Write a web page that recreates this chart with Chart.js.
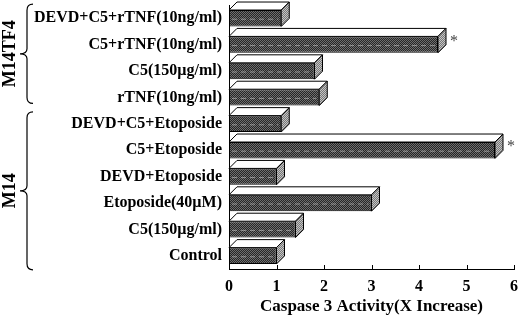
<!DOCTYPE html>
<html lang="en">
<head>
    <meta charset="UTF-8">
    <title>Caspase 3 Activity</title>
    <style>
        html, body { margin: 0; padding: 0; background: #fff; overflow: hidden; }
        .chart-container { width: 520px; height: 317px; position: relative; }
    </style>
</head>
<body>

<div class="chart-container"><canvas id="caspaseChart" width="520" height="317"></canvas></div>

<script src="https://cdn.jsdelivr.net/npm/chart.js"></script>
<script>
    // Data
    const treatments = [
        'DEVD+C5+rTNF(10ng/ml)', 'C5+rTNF(10ng/ml)', 'C5(150µg/ml)', 'rTNF(10ng/ml)',
        'DEVD+C5+Etoposide', 'C5+Etoposide', 'DEVD+Etoposide', 'Etoposide(40µM)',
        'C5(150µg/ml)', 'Control'
    ];
    const activity = [1.1, 4.4, 1.8, 1.9, 1.1, 5.6, 1.0, 3.0, 1.4, 1.0];
    const significant = [false, true, false, false, false, true, false, false, false, false];
    const groupNames = ['M14TF4', 'M14'];
    const groupFirst = [0, 4];
    const groupLast = [3, 9];
    const xTicks = [0, 1, 2, 3, 4, 5, 6];

    const SERIF = "'Liberation Serif', 'Times New Roman', serif";
    const DEPTH_X = 8, DEPTH_Y = 8;

    // stipple patterns for the front and side faces
    function makePattern(dark, light) {
        const c = document.createElement('canvas');
        c.width = 2; c.height = 2;
        const g = c.getContext('2d');
        g.fillStyle = dark; g.fillRect(0, 0, 2, 2);
        g.fillStyle = light; g.fillRect(0, 0, 1, 1); g.fillRect(1, 1, 1, 1);
        return g.createPattern(c, 'repeat');
    }
    const ctx = document.getElementById('caspaseChart').getContext('2d');
    const frontPattern = makePattern('#262626', '#6e6e6e');
    const sidePattern = makePattern('#777', '#c4c4c4');

    const bar3d = {
        id: 'bar3d',
        afterDatasetsDraw(chart) {
            const c = chart.ctx;
            const meta = chart.getDatasetMeta(0);
            c.save();
            meta.data.forEach((el, i) => {
                const p = el.getProps(['x', 'y', 'base', 'height'], true);
                const top = p.y - p.height / 2, bottom = p.y + p.height / 2;
                c.lineWidth = 1;
                c.strokeStyle = '#000';
                // top face
                c.beginPath();
                c.moveTo(p.base, top);
                c.lineTo(p.base + DEPTH_X, top - DEPTH_Y);
                c.lineTo(p.x + DEPTH_X, top - DEPTH_Y);
                c.lineTo(p.x, top);
                c.closePath();
                c.fillStyle = '#fff';
                c.fill(); c.stroke();
                // side face
                c.beginPath();
                c.moveTo(p.x, top);
                c.lineTo(p.x + DEPTH_X, top - DEPTH_Y);
                c.lineTo(p.x + DEPTH_X, bottom - DEPTH_Y);
                c.lineTo(p.x, bottom);
                c.closePath();
                c.fillStyle = sidePattern;
                c.fill(); c.stroke();
                // faint dashed streak across the front
                c.beginPath();
                c.setLineDash([5, 4]);
                c.strokeStyle = 'rgba(200,200,200,0.6)';
                c.moveTo(p.base + 3, p.y + 1);
                c.lineTo(p.x - 3, p.y + 1);
                c.stroke();
                c.setLineDash([]);
                if (significant[i]) {
                    c.fillStyle = '#444';
                    c.font = '16px ' + SERIF;
                    c.textAlign = 'center';
                    c.textBaseline = 'middle';
                    c.fillText('*', p.x + DEPTH_X + 8, p.y - 3);
                }
            });

            // inward tick marks on the x axis
            const xs = chart.scales.x;
            c.strokeStyle = '#000';
            xTicks.forEach(v => {
                const px = Math.round(xs.getPixelForValue(v)) + 0.5;
                c.beginPath();
                c.moveTo(px, xs.top);
                c.lineTo(px, xs.top - 4);
                c.stroke();
            });

            // group braces and rotated names
            const ys = chart.scales.y;
            groupNames.forEach((name, g) => {
                const y0 = ys.getPixelForValue(groupFirst[g]) - 14 + g * 2;
                const y1 = ys.getPixelForValue(groupLast[g]) + 6 + g * 8;
                const ym = (y0 + y1) / 2;
                const xr = 33, xm = 27, xl = 20;
                c.beginPath();
                c.lineWidth = 1.2;
                c.moveTo(xr, y0);
                c.quadraticCurveTo(xm, y0, xm, y0 + 6);
                c.lineTo(xm, ym - 5);
                c.quadraticCurveTo(xm, ym, xl, ym);
                c.quadraticCurveTo(xm, ym, xm, ym + 5);
                c.lineTo(xm, y1 - 6);
                c.quadraticCurveTo(xm, y1, xr, y1);
                c.stroke();
                c.save();
                c.translate(10, ym);
                c.rotate(-Math.PI / 2);
                c.fillStyle = '#000';
                c.font = 'bold 18px ' + SERIF;
                c.textAlign = 'center';
                c.textBaseline = 'middle';
                c.fillText(name, 0, 0);
                c.restore();
            });
            c.restore();
        }
    };

    new Chart(ctx, {
        type: 'bar',
        data: {
            labels: treatments,
            datasets: [{
                data: activity,
                backgroundColor: frontPattern,
                borderColor: '#000',
                borderWidth: 1,
                borderSkipped: false,
                barPercentage: 0.62,
                categoryPercentage: 1
            }]
        },
        options: {
            indexAxis: 'y',
            responsive: false,
            animation: false,
            layout: { padding: { top: 5, right: 6, left: 0, bottom: 0 } },
            plugins: { legend: { display: false }, tooltip: { enabled: false } },
            scales: {
                x: {
                    min: 0, max: 6,
                    afterBuildTicks(scale) { scale.ticks = xTicks.map(v => ({ value: v })); },
                    afterFit(scale) { scale.height = 48; scale.paddingLeft = 0; scale.paddingRight = 0; },
                    grid: { display: false, drawTicks: false },
                    border: { color: '#000', width: 1 },
                    ticks: { color: '#000', padding: 8, font: { family: SERIF, size: 16, weight: 'bold' } },
                    title: {
                        display: true,
                        text: 'Caspase 3 Activity(X Increase)',
                        color: '#000',
                        padding: { top: 1, bottom: 0 },
                        font: { family: SERIF, size: 17, weight: 'bold' }
                    }
                },
                y: {
                    afterFit(scale) { scale.width = 229; scale.paddingTop = 0; scale.paddingBottom = 0; },
                    grid: { display: false, drawTicks: false },
                    border: { color: '#000', width: 1 },
                    ticks: { color: '#000', padding: 7, autoSkip: false, font: { family: SERIF, size: 16, weight: 'bold' } }
                }
            }
        },
        plugins: [bar3d]
    });
</script>

</body>
</html>
